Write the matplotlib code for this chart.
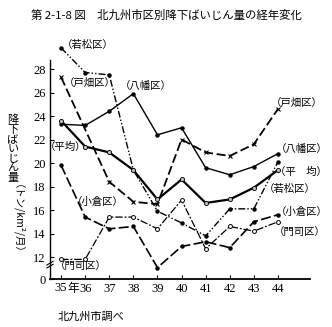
import numpy as np
import matplotlib
matplotlib.use('Agg')
import matplotlib.pyplot as plt
from matplotlib.transforms import blended_transform_factory

plt.rcParams['font.family'] = ['Noto Sans CJK JP', 'DejaVu Sans']

# 年度（昭和）
years = [35, 36, 37, 38, 39, 40, 41, 42, 43, 44]
year_labels = ['', '36', '37', '38', '39', '40', '41', '42', '43', '44']

# 降下ばいじん量 (トン/km²/月)
wakamatsu = [29.8, 27.7, 27.5, 19.4, 15.9, 14.9, 13.8, 16.1, 16.1, 20.1]
tobata_years = [35, 37, 38, 39, 40, 41, 42, 43, 44]
tobata = [27.3, 18.4, 16.7, 16.5, 22.0, 20.9, 20.6, 21.6, 24.6]
yahata = [23.3, 23.2, 24.4, 25.9, 22.4, 23.0, 19.6, 19.0, 19.7, 20.8]
heikin = [23.6, 21.4, 20.9, 19.4, 16.9, 18.6, 16.6, 16.9, 17.9, 19.4]
kokura = [19.8, 15.4, 14.4, 14.6, 11.1, 12.9, 13.3, 12.8, 15.0, 15.6]
moji = [11.8, 11.8, 15.4, 15.4, 14.4, 16.85, 12.7, 14.6, 14.2, 15.0]

y_ticks = [12, 14, 16, 18, 20, 22, 24, 26, 28]
y_zero = 10.13  # 「0」の位置（軸の省略）

W, H = 332, 327
fig = plt.figure(figsize=(W / 100, H / 100), dpi=100)
ax = fig.add_axes([50 / W, (H - 279) / H, 260 / W, 245.25 / H])

ax.plot(years, wakamatsu, color='black', lw=1.0,
        ls=(0, (5, 1.5, 1, 1.5, 1, 1.5)), marker='o', ms=2.2)
ax.plot(tobata_years, tobata, color='black', lw=1.3,
        ls=(0, (5, 2)), marker='x', ms=3.2, mew=0.8)
ax.plot(years, yahata, color='black', lw=1.0, marker='o', ms=2.2)
ax.plot(years, heikin, color='black', lw=1.6, marker='o', ms=3.0,
        mfc='#bbbbbb', mec='black', mew=0.6)
ax.plot(years, kokura, color='black', lw=1.2, ls=(0, (6, 2)), marker='o', ms=2.2)
ax.plot(years, moji, color='black', lw=0.9, ls=(0, (6, 1.5, 1.5, 1.5)),
        marker='o', ms=2.8, mfc='white', mec='black', mew=0.7)

ax.set_xlim(34.54, 45.33)
ax.set_ylim(y_zero, 31)
ax.spines['top'].set_visible(False)
ax.spines['right'].set_visible(False)
ax.spines['left'].set_bounds(y_zero, 28.8)
ax.spines['left'].set_linewidth(1.0)
ax.spines['bottom'].set_linewidth(1.3)

ax.set_xticks(years)
ax.set_xticklabels(year_labels)
ax.set_yticks([y_zero] + y_ticks)
ax.set_yticklabels(['0'] + [str(v) for v in y_ticks])
ax.tick_params(direction='in', length=3, width=0.8, pad=3)
for t in ax.get_xticklabels() + ax.get_yticklabels():
    t.set_family(['Liberation Serif', 'Noto Sans CJK JP'])
    t.set_fontsize(9)

# 35年 のラベル（年が右にはみ出す）
tr = blended_transform_factory(ax.transData, ax.transAxes)
ax.text(35, -0.012, '35', transform=tr, ha='center', va='top', fontsize=9,
        family=['Liberation Serif'])
ax.text(35.27, -0.012, '年', transform=tr, ha='left', va='top', fontsize=8.5)

# 軸の省略記号
for dy in (0.0, 0.012):
    ax.plot([-0.012, 0.012], [0.045 + dy, 0.06 + dy],
            transform=ax.transAxes, color='black', lw=0.8, clip_on=False)


def px(x, y, s, size=7.5, **kw):
    fig.text(x / W, 1 - y / H, s, ha='center', va='center', fontsize=size, **kw)


px(166, 15, '第 2-1-8 図　北九州市区別降下ばいじん量の経年変化', size=8.2)

# 系列ラベル（左）
px(88, 45, '（若松区）')
px(90, 83, '（戸畑区）')
px(146, 86, '（八幡区）')
px(66, 147, '（平均）')
px(98, 202, '（小倉区）')
px(81, 266, '（門司区）')
# 系列ラベル（右）
px(297, 103, '（戸畑区）')
px(302, 149, '（八幡区）')
px(301, 172, '（平　均）')
px(290, 189, '（若松区）')
px(302, 212, '（小倉区）')
px(300, 232, '（門司区）')

# 縦軸ラベル
px(13, 149, '降\n下\nば\nい\nじ\nん\n量', size=8, linespacing=0.95)
px(13, 224, '（トン/km²/月）', rotation=-90)

fig.text(58 / W, 1 - 317 / H, '北九州市調べ', ha='left', va='center', fontsize=8)

fig.savefig('out.png', dpi=100)
